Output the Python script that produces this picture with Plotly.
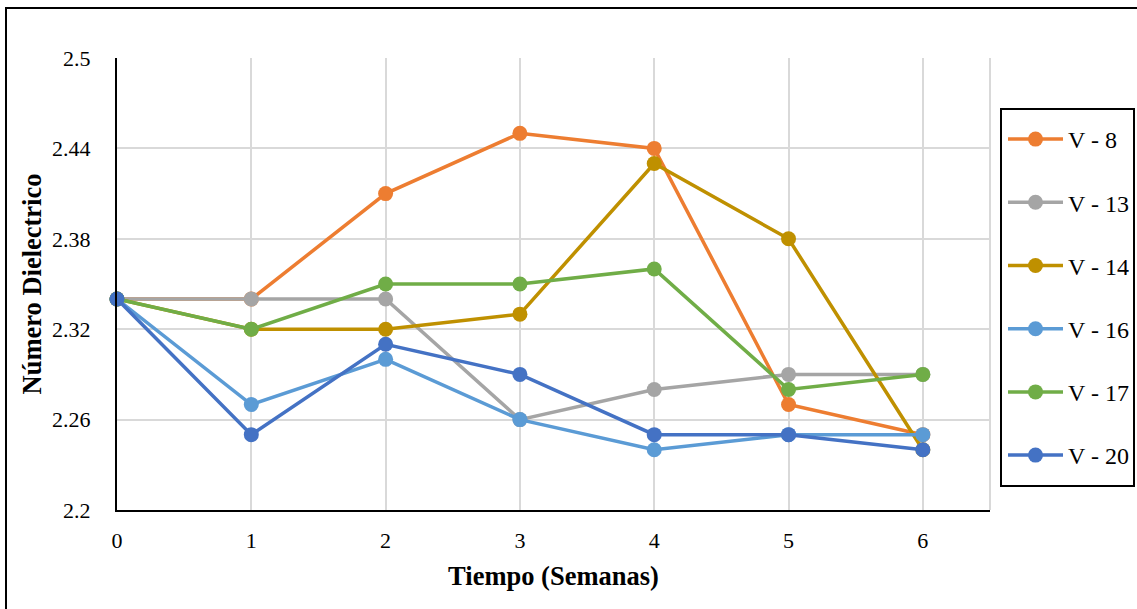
import plotly.graph_objects as go

semanas = [0, 1, 2, 3, 4, 5, 6]

v8 = [2.34, 2.34, 2.41, 2.45, 2.44, 2.27, 2.25]
v13 = [2.34, 2.34, 2.34, 2.26, 2.28, 2.29, 2.29]
v14 = [2.34, 2.32, 2.32, 2.33, 2.43, 2.38, 2.24]
v16 = [2.34, 2.27, 2.30, 2.26, 2.24, 2.25, 2.25]
v17 = [2.34, 2.32, 2.35, 2.35, 2.36, 2.28, 2.29]
v20 = [2.34, 2.25, 2.31, 2.29, 2.25, 2.25, 2.24]

series_names = ["V - 8", "V - 13", "V - 14", "V - 16", "V - 17", "V - 20"]
series_values = [v8, v13, v14, v16, v17, v20]
series_colors = ["#ED7D31", "#A5A5A5", "#BF9000", "#5B9BD5", "#70AD47", "#4472C4"]

y_ticks = [2.2, 2.26, 2.32, 2.38, 2.44, 2.5]
y_tick_text = ["2.2", "2.26", "2.32", "2.38", "2.44", "2.5"]

FONT = "Liberation Serif"

fig = go.Figure()
for i, (name, vals, col) in enumerate(zip(series_names, series_values, series_colors)):
    fig.add_trace(go.Scatter(
        x=semanas, y=vals, name=name, mode="lines+markers",
        line=dict(color=col, width=3.5),
        marker=dict(color=col, size=15),
        legendgroup=f"g{i}",
        cliponaxis=False,
    ))

# plot area frame pieces and boxes (paper coordinates)
L, R, T, B = 117, 990, 58, 510
W, H = R - L, B - T


def px(x):
    return (x - L) / W


def py(y):
    return (B - y) / H


shapes = [
    # right edge of plot area in light grey
    dict(type="line", xref="paper", yref="paper", x0=1, x1=1, y0=0, y1=1,
         line=dict(color="#D9D9D9", width=2)),
    # legend frame
    dict(type="rect", xref="paper", yref="paper",
         x0=px(1001), x1=px(1134), y0=py(486), y1=py(109),
         line=dict(color="black", width=2)),
    # outer chart frame
    dict(type="rect", xref="paper", yref="paper",
         x0=px(6), x1=px(1150), y0=py(640), y1=py(8),
         line=dict(color="black", width=2)),
]

fig.update_layout(
    width=1137, height=609,
    margin=dict(l=L, r=1137 - R, t=T, b=609 - B, autoexpand=False),
    paper_bgcolor="white", plot_bgcolor="white",
    font=dict(family=FONT, size=22, color="black"),
    showlegend=True,
    legend=dict(
        x=px(1003), y=py(117), xanchor="left", yanchor="top",
        font=dict(family=FONT, size=24, color="black"),
        tracegroupgap=29, borderwidth=0, bgcolor="rgba(0,0,0,0)",
        itemwidth=55,
    ),
    shapes=shapes,
    xaxis=dict(
        range=[0, 6.5], tickmode="array", tickvals=semanas,
        ticktext=[str(s) for s in semanas],
        showgrid=True, gridcolor="#D9D9D9", gridwidth=2,
        showline=True, linecolor="black", linewidth=2,
        zeroline=False, ticks="", ticklen=0,
        tickfont=dict(family=FONT, size=22),
        ticklabelstandoff=10,
        title=dict(text="<b>Tiempo (Semanas)</b>", font=dict(family=FONT, size=26.5), standoff=14),
    ),
    yaxis=dict(
        range=[2.2, 2.5], tickmode="array", tickvals=y_ticks, ticktext=y_tick_text,
        showgrid=True, gridcolor="#D9D9D9", gridwidth=2,
        showline=True, linecolor="black", linewidth=2,
        zeroline=False, ticks="", ticklen=0,
        tickfont=dict(family=FONT, size=22),
        ticklabelstandoff=20,
        title=dict(text="<b>Número Dielectrico</b>", font=dict(family=FONT, size=26.5), standoff=3),
    ),
)

fig.write_html("out.html")
